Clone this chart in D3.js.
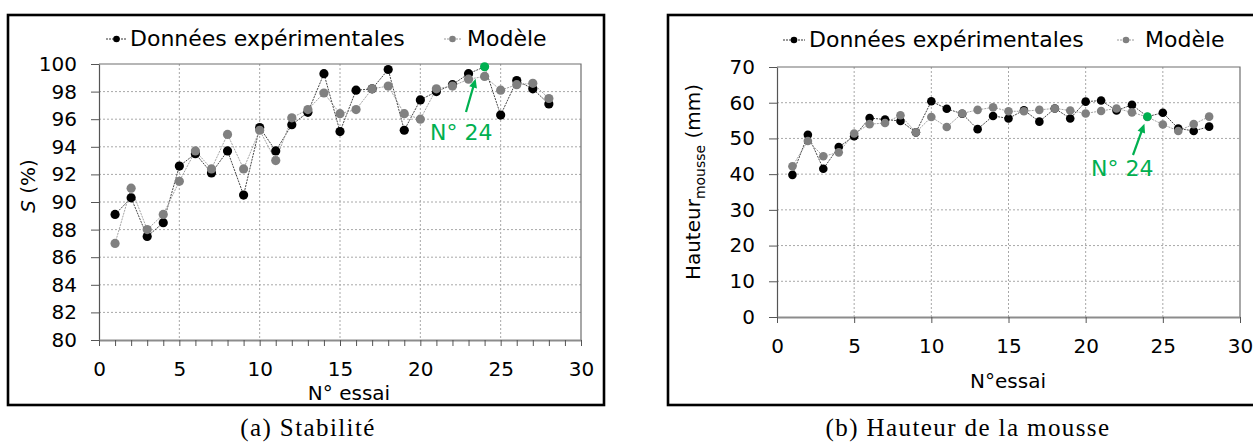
<!DOCTYPE html>
<html>
<head>
<meta charset="utf-8">
<script src="https://cdn.jsdelivr.net/npm/d3@7"></script>
<style>
  html, body { margin: 0; padding: 0; background: #fff; }
  svg { display: block; font-family: "DejaVu Sans", Verdana, sans-serif; }
  .caption { font-family: "Liberation Serif", "DejaVu Serif", serif; }
</style>
</head>
<body>
<svg id="fig" width="1253" height="444"></svg>
<script>
// Trial numbers
const trials = [1, 2, 3, 4, 5, 6, 7, 8, 9, 10, 11, 12, 13, 14, 15, 16, 17, 18, 19, 20, 21, 22, 23, 24, 25, 26, 27, 28];

// (a) Stability S (%)
const stabExp   = [89.1, 90.3, 87.5, 88.5, 92.6, 93.5, 92.1, 93.7, 90.5, 95.4, 93.7, 95.6, 96.5, 99.3, 95.1, 98.1, 98.2, 99.6, 95.2, 97.4, 98.0, 98.5, 99.3, 99.8, 96.3, 98.8, 98.2, 97.1];
const stabModel = [87.0, 91.0, 88.0, 89.1, 91.5, 93.7, 92.4, 94.9, 92.4, 95.2, 93.0, 96.1, 96.7, 97.9, 96.4, 96.7, 98.2, 98.4, 96.4, 96.0, 98.2, 98.4, 98.9, 99.1, 98.1, 98.5, 98.6, 97.5];

// (b) Foam height (mm)
const heightExp   = [39.8, 51.0, 41.5, 47.6, 50.6, 55.7, 55.3, 54.9, 51.7, 60.4, 58.3, 56.9, 52.6, 56.3, 55.6, 57.9, 54.7, 58.4, 55.6, 60.3, 60.6, 57.8, 59.4, 56.1, 57.2, 52.8, 52.1, 53.3];
const heightModel = [42.2, 49.3, 45.0, 46.1, 51.4, 54.0, 54.3, 56.5, 51.7, 56.0, 53.2, 57.0, 58.0, 58.7, 57.6, 57.6, 58.0, 58.4, 57.8, 57.0, 57.7, 58.4, 57.3, 56.0, 53.9, 52.1, 54.0, 56.1];

// Axis ticks
const xTicks = [0, 5, 10, 15, 20, 25, 30];
const xGrid = [5, 10, 15, 20, 25];
const stabTicks = [80, 82, 84, 86, 88, 90, 92, 94, 96, 98, 100];
const heightTicks = [0, 10, 20, 30, 40, 50, 60, 70];

// Labels
const seriesNames = ["Données expérimentales", "Modèle"];
const highlightTrial = 24;
const highlightLabel = "N° 24";

const BLACK = "#000000";
const GREY = "#808080";
const GREEN = "#00b050";

const svg = d3.select("#fig");

function drawPanel(p) {
  const g = svg.append("g");

  // outer frame
  g.append("rect")
    .attr("x", p.frame[0]).attr("y", p.frame[1])
    .attr("width", p.frame[2]).attr("height", p.frame[3])
    .attr("fill", "none").attr("stroke", "#000").attr("stroke-width", 2.6);

  const x = d3.scaleLinear().domain([0, 30]).range([p.left, p.right]);
  const y = d3.scaleLinear().domain(p.yDomain).range([p.bottom, p.top]);

  // grid
  g.append("g").selectAll("line").data(p.yGrid).join("line")
    .attr("x1", p.left).attr("x2", p.right)
    .attr("y1", d => y(d)).attr("y2", d => y(d))
    .attr("stroke", "#a8a8a8").attr("stroke-width", 1).attr("stroke-dasharray", "2,2");
  g.append("g").selectAll("line").data(xGrid).join("line")
    .attr("x1", d => x(d)).attr("x2", d => x(d))
    .attr("y1", p.top).attr("y2", p.bottom)
    .attr("stroke", "#a8a8a8").attr("stroke-width", 1).attr("stroke-dasharray", "2,2");

  // plot border (top and right)
  g.append("path")
    .attr("d", `M${p.left},${p.top}H${p.right}V${p.bottom}`)
    .attr("fill", "none").attr("stroke", "#6e6e6e").attr("stroke-width", 1.2);

  // y axis
  const yAxis = g.append("g").attr("transform", `translate(${p.left},0)`)
    .call(d3.axisLeft(y).tickValues(p.yTicks).tickSize(8).tickPadding(14).tickSizeOuter(0));
  yAxis.select(".domain").attr("stroke", "#555").attr("stroke-width", 1.2);
  yAxis.selectAll(".tick line").attr("stroke", "#555");
  yAxis.selectAll("text").attr("font-size", 20).attr("fill", "#000")
    .attr("font-family", "DejaVu Sans, Verdana, sans-serif");

  // x axis
  const xAxis = g.append("g").attr("transform", `translate(0,${p.bottom})`)
    .call(d3.axisBottom(x).tickValues(p.xTickValues).tickSize(6).tickPadding(p.xPad).tickSizeOuter(0)
      .tickFormat(d => xTicks.includes(d) ? d : ""));
  xAxis.select(".domain").attr("stroke", "#8c8c8c").attr("stroke-width", 1.8);
  xAxis.selectAll(".tick line").attr("stroke", "#555");
  xAxis.selectAll("text").attr("font-size", 20).attr("fill", "#000")
    .attr("font-family", "DejaVu Sans, Verdana, sans-serif");

  // connecting lines
  const line = vals => d3.line().x((d, i) => x(trials[i])).y(d => y(d))(vals);
  g.append("path").attr("d", line(p.exp))
    .attr("fill", "none").attr("stroke", "#333").attr("stroke-width", 0.9).attr("stroke-dasharray", "2,1");
  g.append("path").attr("d", line(p.model))
    .attr("fill", "none").attr("stroke", "#9a9a9a").attr("stroke-width", 0.9).attr("stroke-dasharray", "2,1");

  // markers
  g.append("g").selectAll("circle").data(p.exp).join("circle")
    .attr("cx", (d, i) => x(trials[i])).attr("cy", d => y(d)).attr("r", p.r)
    .attr("fill", (d, i) => trials[i] === highlightTrial ? "none" : BLACK);
  g.append("g").selectAll("circle").data(p.model).join("circle")
    .attr("cx", (d, i) => x(trials[i])).attr("cy", d => y(d)).attr("r", p.r)
    .attr("fill", GREY);
  const hi = trials.indexOf(highlightTrial);
  g.append("circle").attr("cx", x(trials[hi])).attr("cy", y(p.exp[hi])).attr("r", p.r).attr("fill", GREEN);

  // annotation arrow + label
  const tipX = x(trials[hi]) + p.arrow.tip[0], tipY = y(p.exp[hi]) + p.arrow.tip[1];
  const ang = Math.atan2(tipY - p.arrow.from[1], tipX - p.arrow.from[0]);
  const hl = 9, hw = 4;
  g.append("line")
    .attr("x1", p.arrow.from[0]).attr("y1", p.arrow.from[1])
    .attr("x2", tipX - Math.cos(ang) * hl * 0.8).attr("y2", tipY - Math.sin(ang) * hl * 0.8)
    .attr("stroke", GREEN).attr("stroke-width", 2.2);
  const bx = tipX - Math.cos(ang) * hl, by = tipY - Math.sin(ang) * hl;
  g.append("path")
    .attr("d", `M${tipX},${tipY}L${bx - Math.sin(ang) * hw},${by + Math.cos(ang) * hw}L${bx + Math.sin(ang) * hw},${by - Math.cos(ang) * hw}Z`)
    .attr("fill", GREEN);
  g.append("text").attr("x", p.arrow.label[0]).attr("y", p.arrow.label[1])
    .attr("font-size", 22).attr("fill", GREEN).text(highlightLabel);

  // legend
  const lg = g.append("g").attr("font-size", 22);
  [[p.legend[0], "#333", BLACK], [p.legend[1], "#9a9a9a", GREY]].forEach(([L, lc, mc], k) => {
    lg.append("line").attr("x1", L.x1).attr("x2", L.x2).attr("y1", p.legendY - 7).attr("y2", p.legendY - 7)
      .attr("stroke", lc).attr("stroke-width", 1).attr("stroke-dasharray", "2,1");
    lg.append("circle").attr("cx", (L.x1 + L.x2) / 2).attr("cy", p.legendY - 7).attr("r", 3.3).attr("fill", mc);
    lg.append("text").attr("x", L.tx).attr("y", p.legendY).attr("fill", "#000").text(seriesNames[k]);
  });

  // axis titles
  p.yTitle(g.append("text")
    .attr("transform", `translate(${p.yTitlePos[0]},${p.yTitlePos[1]}) rotate(-90)`)
    .attr("text-anchor", "middle").attr("font-size", 20).attr("fill", "#000"));
  g.append("text").attr("x", p.xTitlePos[0]).attr("y", p.xTitlePos[1])
    .attr("text-anchor", "middle").attr("font-size", 20).attr("fill", "#000").text(p.xTitle);

  // caption
  svg.append("text").attr("class", "caption")
    .attr("x", p.caption[0]).attr("y", p.caption[1])
    .attr("text-anchor", "middle").attr("font-size", 25).attr("letter-spacing", 1.4)
    .attr("fill", "#000").text(p.caption[2]);
}

drawPanel({
  frame: [8, 15, 596, 390],
  left: 99, right: 581, top: 64, bottom: 340,
  yDomain: [80, 100], yTicks: stabTicks, yGrid: [82, 84, 86, 88, 90, 92, 94, 96, 98],
  xTickValues: d3.range(0, 31), xPad: 16,
  exp: stabExp, model: stabModel, r: 4.6,
  arrow: { from: [466, 112], tip: [-9, 12], label: [430, 140] },
  legendY: 46,
  legend: [{ x1: 106, x2: 127, tx: 130 }, { x1: 444, x2: 461, tx: 467 }],
  yTitle: t => { t.append("tspan").attr("font-style", "italic").text("S"); t.append("tspan").text(" (%)"); },
  yTitlePos: [35, 186],
  xTitle: "N° essai", xTitlePos: [349, 400],
  caption: [308, 436, "(a) Stabilité"]
});

drawPanel({
  frame: [668, 15, 600, 390],
  left: 777, right: 1240, top: 67, bottom: 317,
  yDomain: [0, 70], yTicks: heightTicks, yGrid: [10, 20, 30, 40, 50, 60],
  xTickValues: xTicks, xPad: 16,
  exp: heightExp, model: heightModel, r: 4.3,
  arrow: { from: [1133, 155], tip: [-3, 7], label: [1091, 176] },
  legendY: 47,
  legend: [{ x1: 783, x2: 805, tx: 809 }, { x1: 1117, x2: 1135, tx: 1145 }],
  yTitle: t => {
    t.append("tspan").text("Hauteur");
    t.append("tspan").attr("font-size", 14).attr("dy", 5).text("mousse");
    t.append("tspan").attr("dy", -5).text(" (mm)");
  },
  yTitlePos: [700, 182],
  xTitle: "N°essai", xTitlePos: [1008, 388],
  caption: [968, 436, "(b) Hauteur de la mousse"]
});
</script>
</body>
</html>
